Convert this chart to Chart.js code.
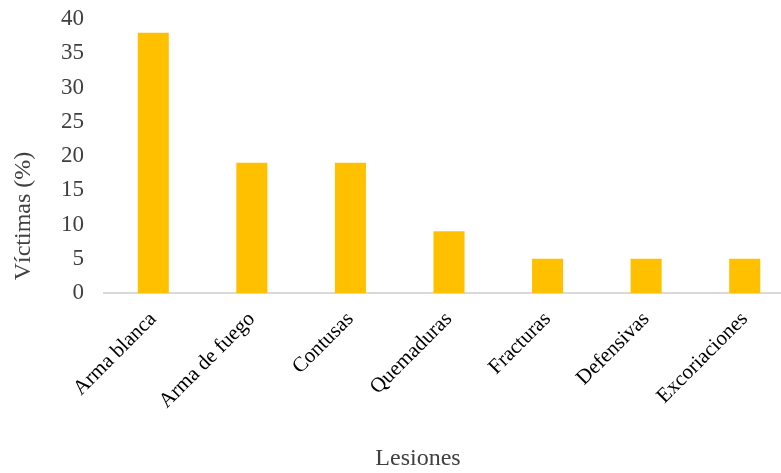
<!DOCTYPE html>
<html lang="es">
<head>
  <meta charset="UTF-8">
  <title>Lesiones</title>
  <script src="https://cdn.jsdelivr.net/npm/chart.js"></script>
  <style>
    html, body { margin: 0; padding: 0; overflow: hidden; background: #fff; }
    #wrap { width: 800px; height: 473px; }
  </style>
</head>
<body>
  <div id="wrap"><canvas id="myChart"></canvas></div>

  <script>
    const categories = ['Arma blanca', 'Arma de fuego', 'Contusas', 'Quemaduras', 'Fracturas', 'Defensivas', 'Excoriaciones'];
    const victimas = [38, 19, 19, 9, 5, 5, 5];
    const yTicks = [0, 5, 10, 15, 20, 25, 30, 35, 40];
    const yTitle = 'Víctimas (%)';
    const xTitle = 'Lesiones';

    const FONT = "'Liberation Serif', 'Times New Roman', serif";

    // axis titles placed like the Excel original (not centred on the plot)
    const axisTitles = {
      id: 'axisTitles',
      afterDraw(chart) {
        const c = chart.ctx;
        c.save();
        c.fillStyle = '#404040';
        c.font = '24px ' + FONT;
        c.textAlign = 'center';
        c.textBaseline = 'middle';
        c.fillText(xTitle, 418, 459);
        c.translate(24, 216);
        c.rotate(-Math.PI / 2);
        c.fillText(yTitle, 0, 0);
        c.restore();
      }
    };

    const ctx = document.getElementById('myChart').getContext('2d');
    const chart = new Chart(ctx, {
      type: 'bar',
      data: {
        labels: categories,
        datasets: [{
          label: yTitle,
          data: victimas,
          backgroundColor: '#FFC000',
          barPercentage: 0.315,
          categoryPercentage: 1
        }]
      },
      options: {
        responsive: true,
        maintainAspectRatio: false,
        animation: false,
        layout: { padding: { top: 19, right: 6, left: 0, bottom: 0 } },
        plugins: { legend: { display: false }, tooltip: { enabled: false } },
        scales: {
          x: {
            grid: { display: false, drawTicks: false },
            border: { color: '#d9d9d9', width: 2 },
            ticks: {
              color: '#000',
              font: { family: FONT, size: 21 },
              maxRotation: 45, minRotation: 45,
              padding: 14
            },
            afterFit(scale) {
              scale.height = 180;
              scale.paddingTop = 0;
              scale.paddingBottom = 0;
            }
          },
          y: {
            min: 0, max: 40,
            grid: { display: false, drawTicks: false },
            border: { display: false },
            afterBuildTicks(scale) { scale.ticks = yTicks.map(v => ({ value: v })); },
            ticks: {
              color: '#404040',
              font: { family: FONT, size: 23 },
              padding: 20
            },
            afterFit(scale) {
              scale.width = 104;
              scale.paddingTop = 0;
              scale.paddingBottom = 0;
            }
          }
        }
      },
      plugins: [axisTitles]
    });
  </script>
</body>
</html>
